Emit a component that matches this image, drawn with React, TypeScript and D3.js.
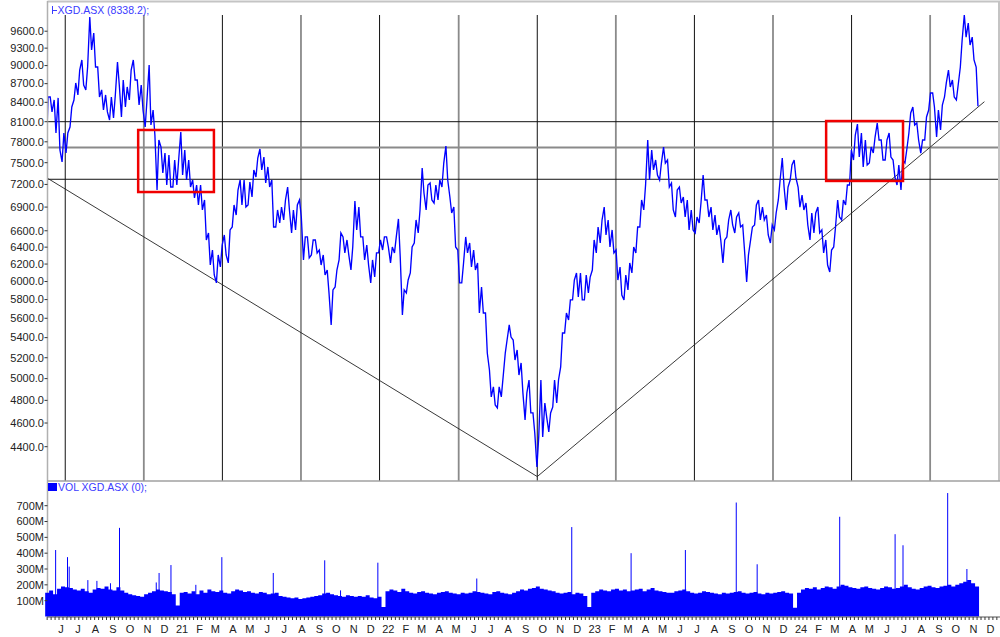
import React from "react";
import * as d3 from "d3";

const W = 1000;
const H = 637;

// ---------- DATA ----------
const weekStart = "2020-05-11"; // first weekly sample (Monday)
const priceHigh = [
  8485, 8485, 8437, 8470, 7930, 7930, 8327, 8711, 8926, 9095,
  8976, 9860, 9567, 8976, 8598, 8517, 8485, 8517, 9060, 8760,
  8646, 8926, 9095, 8760, 8678, 8437, 9010, 8280, 7826, 7724,
  7637, 7608, 7538, 7538, 7945, 7681, 7538, 7260, 7192, 7192,
  6993, 6573, 6366, 6307, 6426, 6548, 6610, 6927, 7125, 7260,
  7260, 7233, 7398, 7566, 7695, 7580, 7440, 7260, 6863, 6900,
  6993, 7165, 6863, 6927, 6993, 6524, 6524, 6487, 6487, 6366,
  6307, 6131, 5906, 6131, 6573, 6524, 6487, 6402, 6980, 6900,
  6524, 6426, 6248, 6331, 6487, 6524, 6524, 6402, 6524, 6748,
  5906, 6017, 6402, 6735, 6863, 7425, 7192, 7219, 7192, 7260,
  7495, 7738, 7032, 6900, 6366, 6213, 6524, 6450, 6366, 6213,
  5939, 5656, 5082, 4923, 4923, 5015, 5376, 5530, 5376, 5276,
  5149, 4868, 4987, 4688, 4481, 4987, 4776, 4688, 4987, 4987,
  5447, 5656, 5796, 6017, 6097, 6097, 6074, 6051, 6487, 6647,
  6735, 6900, 6735, 6610, 6366, 6166, 6074, 6213, 6402, 6647,
  6993, 7192, 7826, 7681, 7538, 7495, 7724, 7538, 7219, 7125,
  7165, 7032, 6993, 6863, 6773, 6953, 7329, 6993, 6900, 6798,
  6672, 6487, 6735, 6863, 6773, 6824, 6672, 6307, 6647, 6927,
  6993, 6900, 6798, 6672, 6824, 7260, 7566, 7165, 7467, 7538,
  7165, 7058, 6953, 6824, 6824, 6900, 6610, 6487, 6366, 6647,
  6993, 6993, 7192, 7681, 7900, 8065, 7930, 7826, 7724, 7870,
  8080, 7826, 7826, 7930, 7538, 7467, 7538, 7681, 8234, 8327,
  8080, 7826, 8172, 8549, 8549, 8280, 8358, 8711, 8926, 8760,
  8678, 9442, 9897, 9748, 9495, 8976,
];
const priceLow = [
  7608, 8250, 7930, 7681, 7510, 7640, 8020, 8437, 8517, 8678,
  8598, 9267, 8976, 8485, 8280, 8250, 8126, 8156, 8678, 8172,
  8327, 8437, 8760, 8358, 8280, 8020, 8050, 7900, 7125, 7356,
  7192, 7165, 7165, 7192, 7329, 7260, 7165, 7019, 6927, 6863,
  6487, 6189, 6074, 5984, 6166, 6307, 6213, 6647, 6798, 6927,
  6900, 6927, 7032, 7302, 7398, 7219, 7165, 6647, 6647, 6697,
  6735, 6863, 6573, 6610, 6773, 6248, 6272, 6307, 6331, 6189,
  6074, 5872, 5530, 5939, 6248, 6331, 6307, 6131, 6610, 6524,
  6248, 6189, 5984, 6051, 6331, 6366, 6402, 6213, 6331, 6283,
  5635, 5872, 6097, 6450, 6573, 7085, 6863, 6993, 6953, 6993,
  7165, 7260, 6824, 6402, 5984, 5984, 6331, 6166, 6131, 5656,
  5656, 5246, 4831, 4759, 4732, 4831, 5246, 5406, 5178, 5034,
  4868, 4627, 4688, 4515, 4236, 4481, 4653, 4523, 4741, 4776,
  5111, 5447, 5582, 5796, 5828, 5796, 5796, 5872, 6131, 6331,
  6450, 6548, 6402, 6331, 6017, 5850, 5796, 5906, 6097, 6331,
  6647, 6863, 7260, 7398, 7329, 7260, 7495, 7165, 6863, 6773,
  6953, 6773, 6610, 6610, 6573, 6697, 6993, 6773, 6610, 6548,
  6487, 6213, 6524, 6672, 6573, 6647, 6366, 5995, 6487, 6672,
  6735, 6735, 6548, 6450, 6610, 6993, 7165, 6863, 7260, 7288,
  6900, 6863, 6672, 6487, 6573, 6573, 6331, 6189, 6108, 6402,
  6773, 6735, 6927, 7192, 7538, 7580, 7440, 7467, 7495, 7637,
  7826, 7538, 7538, 7580, 7302, 7192, 7125, 7495, 7930, 8050,
  7826, 7637, 7826, 8280, 8327, 7870, 7975, 8485, 8646, 8485,
  8437, 8976, 9495, 9354, 9095, 8338.2,
];
const lastClose = 8338.2;

// weekly volume (millions): top of the weekly range and typical solid base
const volumeWeekly = [
  150, 165, 140, 175, 190, 185, 180, 170, 165, 175,
  160, 150, 170, 180, 175, 190, 170, 165, 185, 165,
  150, 140, 135, 130, 125, 140, 150, 160, 170, 165,
  160, 155, 140, 70, 150, 155, 145, 160, 140, 165,
  150, 170, 160, 155, 165, 150, 145, 160, 170, 165,
  155, 160, 150, 145, 155, 150, 140, 145, 150, 130,
  125, 120, 115, 120, 110, 115, 120, 125, 130, 135,
  145, 150, 140, 135, 130, 125, 135, 130, 125, 130,
  125, 135, 120, 115, 125, 60, 160, 170, 165, 155,
  175, 160, 150, 145, 155, 160, 150, 145, 140, 150,
  155, 160, 150, 145, 140, 150, 145, 150, 160, 155,
  150, 145, 140, 155, 160, 150, 145, 140, 150, 160,
  170, 165, 175, 180, 190, 175, 170, 165, 160, 150,
  145, 150, 155, 140, 150, 145, 130, 60, 150, 160,
  170, 165, 160, 170, 175, 165, 170, 160, 165, 170,
  175, 160, 170, 180, 165, 160, 155, 150, 150, 160,
  165, 170, 160, 150, 145, 150, 160, 155, 150, 145,
  140, 150, 145, 150, 155, 160, 150, 145, 150, 155,
  145, 140, 150, 145, 150, 155, 160, 150, 145, 55,
  150, 170, 180, 175, 185, 170, 180, 190, 185, 175,
  190, 200, 195, 185, 180, 175, 185, 190, 180, 175,
  170, 180, 190, 185, 175, 180, 190, 200, 185, 175,
  170, 180, 190, 195, 185, 180, 190, 195, 200, 190,
  200, 210, 220, 230, 210, 190,
];
const spikeDates = [
  "2020-05-26", "2020-06-16", "2020-06-19", "2020-07-22", "2020-08-07",
  "2020-08-31", "2020-09-16", "2020-11-20", "2020-11-25", "2020-12-16",
  "2021-01-29", "2021-03-16", "2021-06-15", "2021-09-14", "2021-10-12",
  "2021-12-17", "2022-06-10", "2022-11-25", "2023-03-10", "2023-06-14",
  "2023-09-12", "2023-10-19", "2024-03-13", "2024-06-19", "2024-07-03",
  "2024-09-20", "2024-10-24",
];
const spikeValues = [
  420, 375, 315, 230, 225, 210, 560, 215, 275, 325, 200, 375, 275, 355, 165,
  340, 240, 565, 400, 420, 720, 330, 630, 520, 450, 780, 300,
];

const priceTicks = [4400, 4600, 4800, 5000, 5200, 5400, 5600, 5800, 6000, 6200, 6400, 6600, 6900, 7200, 7500, 7800, 8100, 8400, 8700, 9000, 9300, 9600];
const volumeTicks = [100, 200, 300, 400, 500, 600, 700];
const monthLetters = ["J", "F", "M", "A", "M", "J", "J", "A", "S", "O", "N", "D"];

const levelPrices = [8100, 7717, 7270];
const gridDates = [
  "2020-06-12", "2020-10-29", "2021-03-17", "2021-08-03", "2021-12-20", "2022-05-09",
  "2022-09-25", "2023-02-11", "2023-06-30", "2023-11-16", "2024-04-03", "2024-08-20",
];
const trendDates = ["2020-05-11", "2022-09-25", "2024-11-24"];
const trendPrices = [7287, 4160, 8410];
const boxes = [
  { from: "2020-10-19", to: "2021-03-02", top: 7975, bottom: 7098 },
  { from: "2024-02-18", to: "2024-07-03", top: 8110, bottom: 7247 },
];

// ---------- LAYOUT ----------
const left = 47.5;
const right = 999;
const priceTop = 2;
const gridTop = 15;
const priceBottom = 481;
const volBottom = 617;
const FONT = "'Liberation Sans Narrow','Arial Narrow','Liberation Sans',Arial,sans-serif";

const parse = (s: string) => {
  const [y, m, d] = s.split("-").map(Number);
  return new Date(y, m - 1, d);
};

export default function App() {
  const x = d3.scaleTime().domain([new Date(2021, 0, 1), new Date(2024, 0, 1)]).range([180, 799]);
  const y = d3.scaleLog().domain([4400, 8100]).range([446.7, 121.7]);
  const yv = d3.scaleLinear().domain([0, 700]).range([616.5, 505.7]);

  const start = parse(weekStart);
  const n = Math.min(priceHigh.length, priceLow.length);
  const weekX = (i: number) => x(d3.timeDay.offset(start, 7 * i));

  const pts: [number, number][] = [];
  for (let i = 0; i < n; i++) {
    const hi = priceHigh[i];
    const lo = priceLow[i];
    const mid = (hi + lo) / 2;
    const nextMid = i < n - 1 ? (priceHigh[i + 1] + priceLow[i + 1]) / 2 : -Infinity;
    const xi = weekX(i);
    if (nextMid > mid) {
      pts.push([xi - 0.9, y(lo)], [xi + 0.9, y(hi)]);
    } else {
      pts.push([xi - 0.9, y(hi)], [xi + 0.9, y(lo)]);
    }
  }
  const pricePath = d3.line()(pts) || "";

  const step = weekX(1) - weekX(0);
  const months = d3.timeMonth.range(new Date(2020, 5, 1), new Date(2025, 0, 1));
  const weeks = d3.timeMonday.range(new Date(2020, 4, 11), new Date(2024, 11, 20));

  // volume as one stepped area (no seams between weeks)
  const volData = volumeWeekly.slice(0, n).map((v, i) => ({ x: weekX(i) - step / 2, v }));
  volData.push({ x: weekX(n - 1) + step / 2, v: volumeWeekly[n - 1] });
  const volArea = d3.area<{ x: number; v: number }>()
    .x((d) => d.x)
    .y0(yv(0))
    .y1((d) => yv(d.v))
    .curve(d3.curveStepAfter)(volData) || "";

  const trendPts: [number, number][] = trendDates.map((d, i) => [x(parse(d)), y(trendPrices[i])]);

  return (
    <svg width={W} height={H} style={{ position: "absolute", left: 0, top: 0, background: "#fff" }} fontFamily={FONT}>
      <rect x={0} y={0} width={W} height={H} fill="#fff" />
      <defs>
        <clipPath id="pclip">
          <rect x={left} y={priceTop} width={right - left} height={priceBottom - priceTop} />
        </clipPath>
      </defs>

      {/* vertical grid */}
      {gridDates.map((d, i) => (
        <line key={d} x1={x(parse(d))} x2={x(parse(d))} y1={gridTop} y2={priceBottom}
          stroke={i % 2 === 0 ? "#111" : "#8a8a8a"} strokeWidth={i % 2 === 0 ? 1 : 1.8} />
      ))}
      {/* horizontal levels */}
      {levelPrices.map((p, i) => (
        <line key={p} x1={left} x2={right} y1={y(p)} y2={y(p)}
          stroke={i === 1 ? "#8a8a8a" : "#111"} strokeWidth={i === 1 ? 1.8 : 1} />
      ))}

      {/* trend lines */}
      <path d={d3.line()(trendPts) || ""} fill="none" stroke="#222" strokeWidth={0.9} clipPath="url(#pclip)" />

      {/* price */}
      <path d={pricePath} fill="none" stroke="#0000ff" strokeWidth={1.35} strokeLinejoin="miter" clipPath="url(#pclip)" />

      {/* red boxes */}
      {boxes.map((b, i) => (
        <rect key={i} x={x(parse(b.from))} y={y(b.top)} width={x(parse(b.to)) - x(parse(b.from))}
          height={y(b.bottom) - y(b.top)} fill="none" stroke="#f00000" strokeWidth={2.5} />
      ))}

      {/* frames */}
      <line x1={left} x2={W} y1={1.5} y2={1.5} stroke="#c4c4c4" strokeWidth={2} />
      <line x1={left} x2={left} y1={1} y2={volBottom} stroke="#b0b0b0" strokeWidth={1.5} />
      <line x1={right} x2={right} y1={1} y2={priceBottom} stroke="#c4c4c4" strokeWidth={2} />
      <line x1={left} x2={W} y1={priceBottom} y2={priceBottom} stroke="#a0a0a0" strokeWidth={1.5} />

      {/* price header */}
      <line x1={52.5} x2={52.5} y1={6} y2={14} stroke="#3b3bff" strokeWidth={1} />
      <line x1={52.5} x2={57} y1={10.5} y2={10.5} stroke="#3b3bff" strokeWidth={1} />
      <text x={57.5} y={14} fontSize={10.5} fill="#3b3bff">XGD.ASX ({lastClose.toFixed(1)});</text>

      {/* price axis */}
      {priceTicks.map((t) => (
        <g key={t}>
          <line x1={44.5} x2={47.5} y1={y(t)} y2={y(t)} stroke="#333" />
          <text x={44} y={y(t)} dy="0.35em" textAnchor="end" fontSize={11} fill="#222">{t.toFixed(1)}</text>
        </g>
      ))}

      {/* volume */}
      <path d={volArea} fill="#0000ff" />
      {spikeDates.map((d, i) => (
        <line key={d} x1={x(parse(d))} x2={x(parse(d))} y1={yv(0)} y2={yv(spikeValues[i])} stroke="#0000ff" strokeWidth={1} />
      ))}
      <rect x={48} y={483} width={9} height={8} fill="#0000ff" />
      <text x={58} y={491} fontSize={10.5} fill="#3b3bff">VOL XGD.ASX (0);</text>
      {volumeTicks.map((t) => (
        <g key={t}>
          <line x1={44.5} x2={47.5} y1={yv(t)} y2={yv(t)} stroke="#333" />
          <text x={44} y={yv(t)} dy="0.35em" textAnchor="end" fontSize={11} fill="#222">{t}M</text>
        </g>
      ))}

      {/* x axis */}
      <line x1={left} x2={W} y1={volBottom} y2={volBottom} stroke="#555" strokeWidth={1} />
      {weeks.map((w, i) => (
        <line key={i} x1={x(w)} x2={x(w)} y1={volBottom} y2={volBottom + 3} stroke="#333" strokeWidth={1} />
      ))}
      {months.map((m, i) => (
        <text key={i} x={x(m) + 2} y={633} textAnchor="middle" fontSize={11} fill="#222">
          {m.getMonth() === 0 ? String(m.getFullYear() % 100).padStart(2, "0") : monthLetters[m.getMonth()]}
        </text>
      ))}
    </svg>
  );
}
